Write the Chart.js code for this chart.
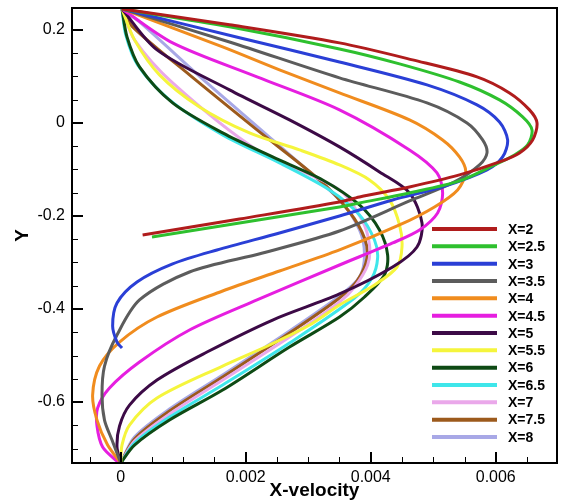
<!DOCTYPE html>
<html>
<head>
<meta charset="utf-8">
<script src="https://cdn.jsdelivr.net/npm/chart.js@4.4.1/dist/chart.umd.min.js"></script>
<style>
  html, body { margin: 0; padding: 0; background: #fff; }
  #wrap { width: 562px; height: 502px; }
</style>
</head>
<body>
<div id="wrap"><canvas id="velChart" width="562" height="502"></canvas></div>
<script>
// stations and their colours
const stations = ['X=2', 'X=2.5', 'X=3', 'X=3.5', 'X=4', 'X=4.5', 'X=5', 'X=5.5', 'X=6', 'X=6.5', 'X=7', 'X=7.5', 'X=8'];
const lineColors = ['#b01c1c', '#2ec02e', '#2a3fd6', '#5c5c5c', '#f08c1e', '#e61ee0', '#3c0a46', '#f5f53c', '#0e4a14', '#3ee6ea', '#eaa8ea', '#9c5a1c', '#a8a8e6'];

// velocity profiles, pairs of [x-velocity, Y]
const profX2 = [[0.00002,0.245],[0.00174,0.211],[0.0035,0.172],[0.00467,0.1355],[0.0057,0.099],[0.00622,0.0645],[0.00654,0.028],[0.00666,0.0],[0.00659,-0.0366],[0.00638,-0.0645],[0.00606,-0.0839],[0.00542,-0.1118],[0.00462,-0.1376],[0.00382,-0.1591],[0.0035,-0.17],[0.0019,-0.2065],[0.00035,-0.241]];
const profX25 = [[0.00002,0.245],[0.00174,0.2065],[0.0035,0.159],[0.00446,0.127],[0.00542,0.088],[0.00606,0.0495],[0.00643,0.013],[0.00658,-0.015],[0.00651,-0.0473],[0.0063,-0.0688],[0.00598,-0.0903],[0.00542,-0.1247],[0.00462,-0.1505],[0.00382,-0.172],[0.0035,-0.1806],[0.0019,-0.2151],[0.0005,-0.2452]];
const profX3 = [[0.00002,0.245],[0.0019,0.183],[0.0035,0.131],[0.0049,0.0817],[0.0057,0.0387],[0.00606,0.002],[0.00619,-0.0366],[0.00611,-0.0731],[0.00586,-0.1011],[0.00515,-0.1376],[0.00435,-0.1656],[0.0035,-0.2],[0.00254,-0.2366],[0.00154,-0.2731],[0.00083,-0.303],[0.00026,-0.3419],[-0.00006,-0.3871],[-0.00013,-0.4366],[-0.00006,-0.471],[0.00002,-0.4839]];
const profX35 = [[0.00002,0.245],[0.00174,0.174],[0.0035,0.0968],[0.0049,0.043],[0.00554,0.0],[0.00579,-0.0366],[0.00586,-0.0645],[0.00574,-0.0903],[0.00534,-0.1269],[0.00462,-0.1677],[0.0035,-0.2323],[0.00227,-0.2796],[0.0011,-0.3204],[0.0003,-0.3806],[-0.00006,-0.4559],[-0.00026,-0.5226],[-0.0003,-0.5849],[-0.00026,-0.6387],[-0.00014,-0.6817],[0,-0.731]];
const profX4 = [[0.00002,0.245],[0.00163,0.1634],[0.00254,0.114],[0.0035,0.0645],[0.00462,0.0065],[0.00515,-0.0366],[0.00542,-0.0731],[0.00552,-0.1054],[0.00539,-0.1441],[0.00502,-0.1806],[0.00446,-0.2194],[0.0035,-0.2731],[0.00254,-0.3183],[0.00163,-0.3613],[0.00058,-0.4172],[-0.00002,-0.471],[-0.00034,-0.5226],[-0.00045,-0.5849],[-0.00038,-0.6387],[-0.00021,-0.6925],[0,-0.731]];
const profX45 = [[0.00002,0.245],[0.00083,0.172],[0.00218,0.0989],[0.0035,0.028],[0.00462,-0.058],[0.00506,-0.1075],[0.00515,-0.1505],[0.00507,-0.1935],[0.00478,-0.2301],[0.00435,-0.258],[0.0035,-0.3054],[0.00218,-0.3806],[0.0011,-0.4452],[0.0003,-0.514],[-0.00018,-0.5699],[-0.00037,-0.6129],[-0.00038,-0.6516],[-0.00029,-0.6968],[-0.00006,-0.7269],[0,-0.731]];
const profX5 = [[0.00002,0.245],[0.00058,0.157],[0.00174,0.071],[0.0027,0.0065],[0.0035,-0.0516],[0.00414,-0.1054],[0.00462,-0.1505],[0.00482,-0.2151],[0.00474,-0.2667],[0.00435,-0.3097],[0.0035,-0.3677],[0.00243,-0.4237],[0.00138,-0.4925],[0.00058,-0.5527],[0.00014,-0.6065],[-0.00002,-0.6516],[-0.00006,-0.6968],[0,-0.731]];
const profX55 = [[0.00002,0.245],[0.00022,0.1785],[0.00062,0.1032],[0.00126,0.0344],[0.00206,-0.0215],[0.00286,-0.058],[0.0035,-0.0903],[0.00398,-0.1226],[0.0043,-0.1656],[0.00446,-0.2194],[0.0045,-0.2667],[0.00442,-0.3097],[0.00406,-0.3484],[0.0035,-0.3914],[0.00302,-0.4344],[0.00238,-0.4774],[0.00163,-0.5226],[0.00058,-0.5914],[0.00014,-0.6495],[0.00002,-0.6925],[0,-0.731]];
const profX6 = [[0.00002,0.245],[0.0001,0.185],[0.0003,0.1204],[0.00083,0.043],[0.00163,-0.0215],[0.00243,-0.0731],[0.00323,-0.1226],[0.00382,-0.1763],[0.00414,-0.2301],[0.00427,-0.2839],[0.00422,-0.3269],[0.0039,-0.3742],[0.0035,-0.4172],[0.0027,-0.4817],[0.00163,-0.5742],[0.00078,-0.6387],[0.00022,-0.6925],[0,-0.731]];
const profX65 = [[0.00002,0.245],[0.00008,0.1892],[0.00027,0.1247],[0.00078,0.0495],[0.00163,-0.0258],[0.00254,-0.086],[0.00334,-0.1441],[0.00382,-0.1978],[0.00406,-0.2516],[0.00411,-0.2903],[0.00402,-0.3333],[0.00374,-0.3763],[0.0027,-0.4731],[0.00163,-0.5634],[0.00078,-0.6323],[0.00022,-0.6882],[0,-0.731]];
const profX7 = [[0.00002,0.245],[0.00022,0.1785],[0.00083,0.086],[0.00218,-0.058],[0.0035,-0.1441],[0.00386,-0.2086],[0.00398,-0.2624],[0.00395,-0.3054],[0.00374,-0.3527],[0.0035,-0.3849],[0.0027,-0.4602],[0.00163,-0.5527],[0.00078,-0.6258],[0.00022,-0.6839],[0,-0.731]];
const profX75 = [[0.00002,0.245],[0.00019,0.2065],[0.0011,0.1032],[0.00218,-0.015],[0.00318,-0.1226],[0.00366,-0.1914],[0.0039,-0.2473],[0.00394,-0.2903],[0.00379,-0.3376],[0.0035,-0.3763],[0.0027,-0.4516],[0.00163,-0.5462],[0.00078,-0.6194],[0.00022,-0.6796],[0,-0.731]];
const profX8 = [[0.00002,0.245],[0.0003,0.2172],[0.00138,0.086],[0.00243,-0.0366],[0.0035,-0.1656],[0.00382,-0.2301],[0.0039,-0.2839],[0.00382,-0.3312],[0.0035,-0.372],[0.0027,-0.4473],[0.00163,-0.5419],[0.00078,-0.6151],[0.00022,-0.6753],[0,-0.731]];

const profiles = [profX2, profX25, profX3, profX35, profX4, profX45, profX5, profX55, profX6, profX65, profX7, profX75, profX8];

// axis ticks
const xTicks = [0, 0.002, 0.004, 0.006];
const yTicks = [-0.6, -0.4, -0.2, 0, 0.2];
const xMinorStep = 0.0005;
const yMinorStep = 0.05;

const FONT = '"Liberation Sans", Arial, Helvetica, sans-serif';

// frame box with inward ticks (left and bottom only)
const frameTicks = {
    id: 'frameTicks',
    afterDraw(chart) {
        const { ctx, chartArea: a } = chart;
        const sx = chart.scales.x;
        const sy = chart.scales.y;
        ctx.save();
        ctx.strokeStyle = '#000';

        // minor ticks
        ctx.lineWidth = 1;
        ctx.beginPath();
        for (let k = -2; k <= 14; k++) {
            if (k % 4 === 0) continue;
            const v = k * xMinorStep;
            if (v <= sx.min || v >= sx.max) continue;
            const px = Math.round(sx.getPixelForValue(v)) + 0.5;
            ctx.moveTo(px, a.bottom);
            ctx.lineTo(px, a.bottom - 6);
        }
        for (let k = -15; k <= 5; k++) {
            if (k % 4 === 0) continue;
            const v = k * yMinorStep;
            if (v <= sy.min || v >= sy.max) continue;
            const py = Math.round(sy.getPixelForValue(v)) + 0.5;
            ctx.moveTo(a.left, py);
            ctx.lineTo(a.left + 6, py);
        }
        ctx.stroke();

        // major ticks
        ctx.lineWidth = 2;
        ctx.beginPath();
        xTicks.forEach(v => {
            const px = Math.round(sx.getPixelForValue(v));
            ctx.moveTo(px, a.bottom);
            ctx.lineTo(px, a.bottom - 11);
        });
        yTicks.forEach(v => {
            const py = Math.round(sy.getPixelForValue(v));
            ctx.moveTo(a.left, py);
            ctx.lineTo(a.left + 11, py);
        });
        ctx.stroke();

        // frame
        ctx.lineWidth = 2;
        ctx.strokeRect(a.left, a.top, a.right - a.left, a.bottom - a.top);
        ctx.restore();
    }
};

// legend drawn inside the plot, lower right
const insideLegend = {
    id: 'insideLegend',
    afterDraw(chart) {
        const { ctx, chartArea: a } = chart;
        const x0 = a.right - 125;
        const x1 = a.right - 60;
        const top = a.top + 221;
        const step = 17.33;
        ctx.save();
        ctx.font = 'bold 14px ' + FONT;
        ctx.textBaseline = 'middle';
        ctx.textAlign = 'left';
        chart.data.datasets.forEach((ds, i) => {
            const y = top + i * step;
            ctx.strokeStyle = ds.borderColor;
            ctx.lineWidth = 4;
            ctx.beginPath();
            ctx.moveTo(x0, y);
            ctx.lineTo(x1, y);
            ctx.stroke();
            ctx.fillStyle = '#000';
            ctx.fillText(ds.label, x1 + 11, y + 1);
        });
        ctx.restore();
    }
};

const fmt = v => String(parseFloat(Number(v).toFixed(4)));

const datasets = profiles.map((prof, i) => ({
    label: stations[i],
    data: prof.map(p => ({ x: p[0], y: p[1] })),
    borderColor: lineColors[i],
    backgroundColor: lineColors[i],
    borderWidth: 3,
    showLine: true,
    pointRadius: 0,
    tension: 0.3,
    fill: false
}));

new Chart(document.getElementById('velChart'), {
    type: 'scatter',
    data: { datasets: datasets },
    options: {
        responsive: false,
        animation: false,
        layout: { padding: { top: 8, right: 5, left: 0, bottom: 0 } },
        plugins: {
            legend: { display: false },
            tooltip: { enabled: false }
        },
        scales: {
            x: {
                type: 'linear',
                min: -0.00078,
                max: 0.00698,
                grid: { display: false, drawTicks: false },
                border: { display: false },
                afterBuildTicks: s => { s.ticks = xTicks.map(v => ({ value: v })); },
                afterFit: s => { s.height = 39; s.paddingLeft = 0; s.paddingRight = 0; },
                ticks: {
                    color: '#000',
                    padding: 5,
                    maxRotation: 0,
                    autoSkip: false,
                    font: { size: 16, family: FONT },
                    callback: v => fmt(v)
                },
                title: {
                    display: true,
                    text: 'X-velocity',
                    color: '#000',
                    font: { size: 19, weight: 'bold', family: FONT },
                    padding: { top: 0, bottom: 0 }
                }
            },
            y: {
                type: 'linear',
                min: -0.731,
                max: 0.247,
                grid: { display: false, drawTicks: false },
                border: { display: false },
                afterBuildTicks: s => { s.ticks = yTicks.map(v => ({ value: v })); },
                afterFit: s => { s.width = 72; s.paddingTop = 0; s.paddingBottom = 0; },
                ticks: {
                    color: '#000',
                    padding: 7,
                    autoSkip: false,
                    font: { size: 16, family: FONT },
                    callback: v => fmt(v)
                },
                title: {
                    display: true,
                    text: 'Y',
                    color: '#000',
                    font: { size: 19, weight: 'bold', family: FONT },
                    padding: { top: 11, bottom: 0 }
                }
            }
        }
    },
    plugins: [frameTicks, insideLegend]
});
</script>
</body>
</html>
